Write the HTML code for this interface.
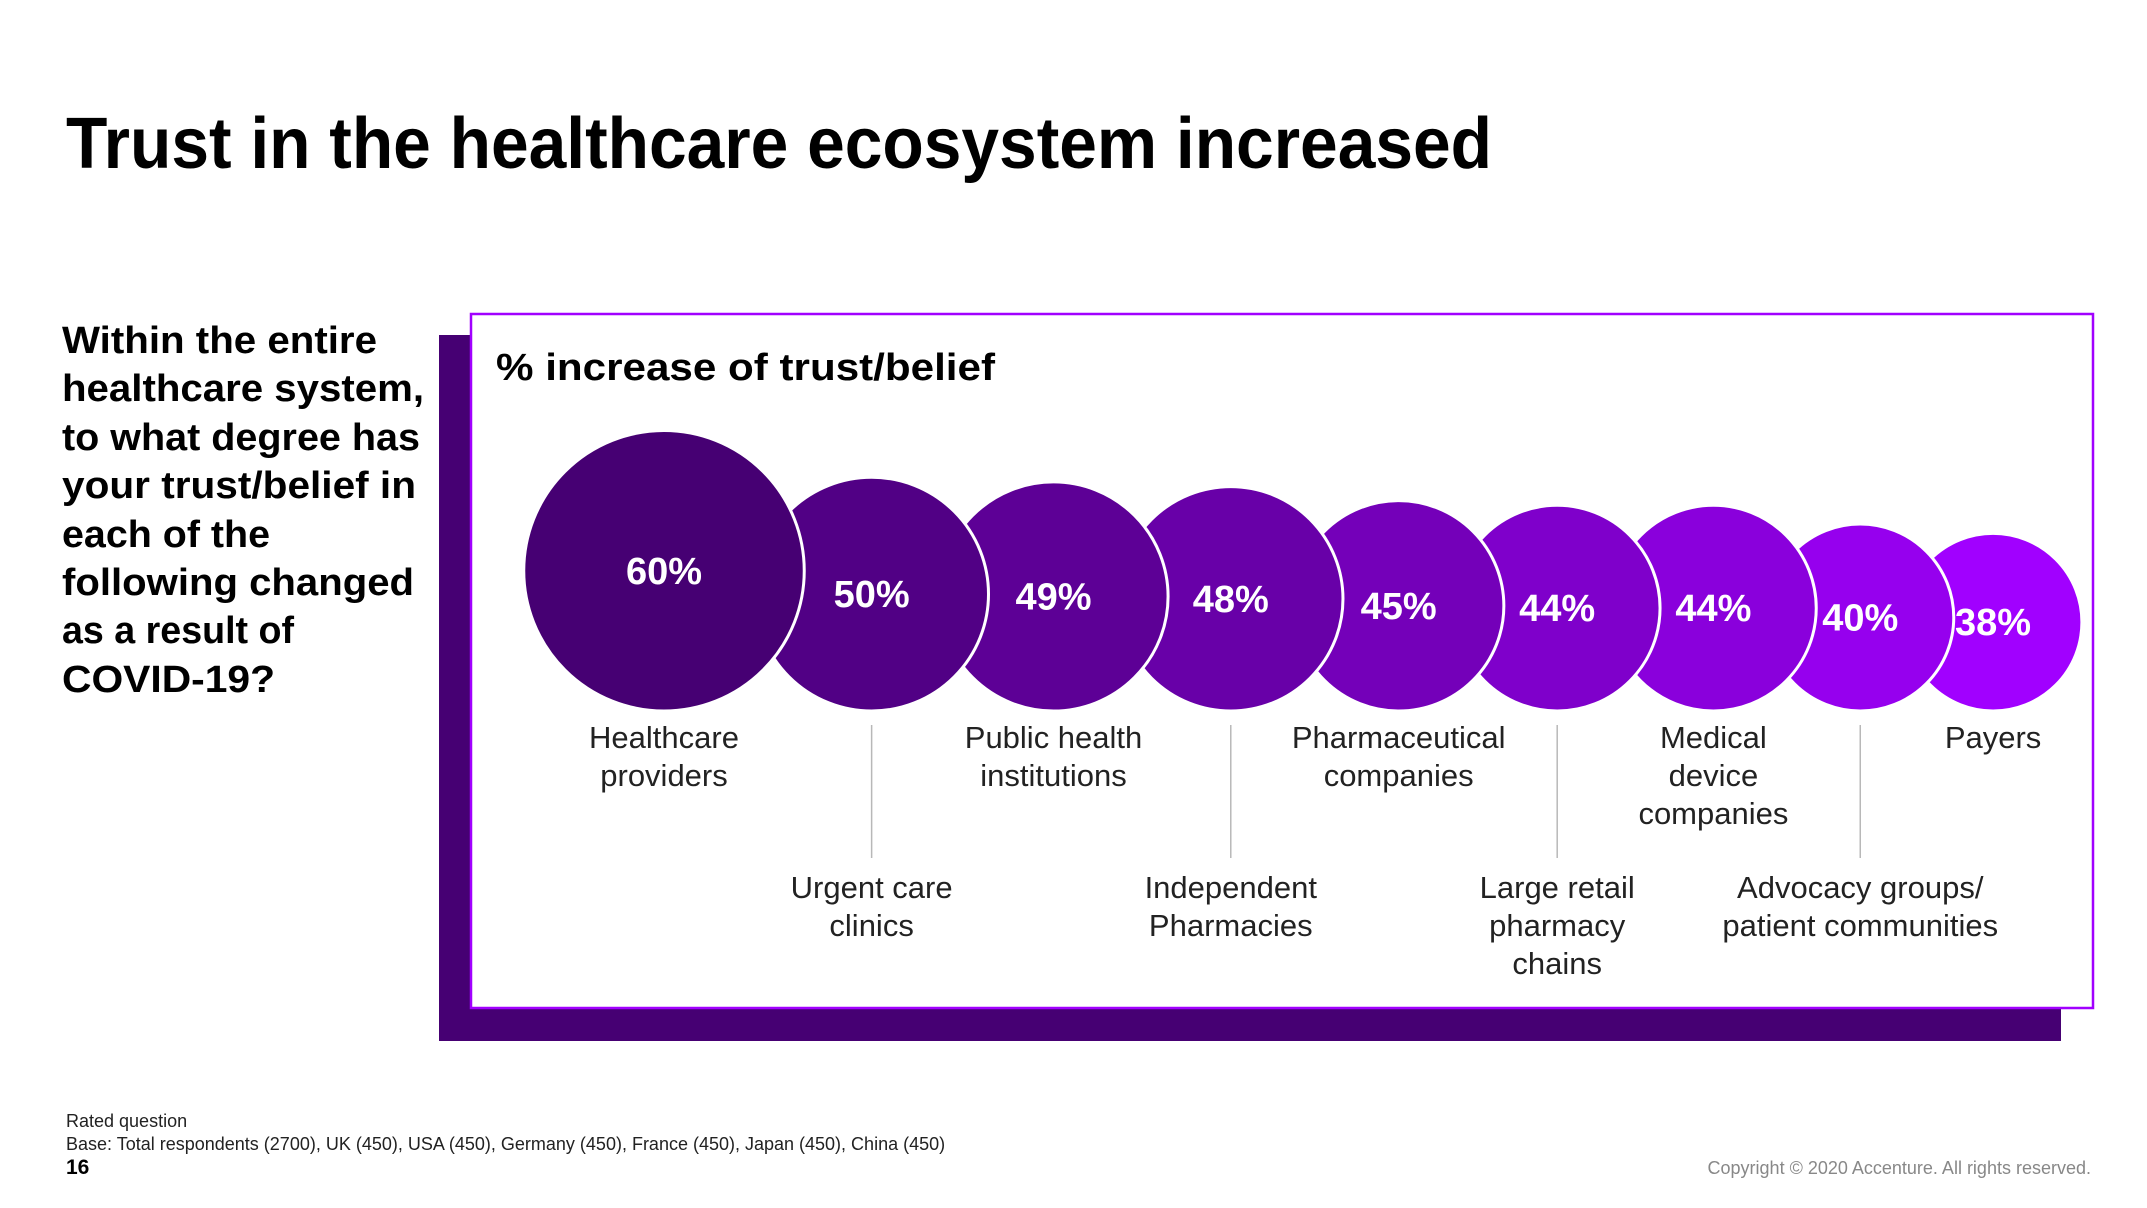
<!DOCTYPE html>
<html><head><meta charset="utf-8"><style>
html,body{margin:0;padding:0;background:#fff;}
svg{display:block;font-family:"Liberation Sans",sans-serif;}
</style></head><body>
<svg id="page" width="2147" height="1208" viewBox="0 0 2147 1208">
<text x="66" y="168" font-size="72" font-weight="bold" fill="#000" textLength="1426" lengthAdjust="spacingAndGlyphs">Trust in the healthcare ecosystem increased</text>
<g font-size="38" font-weight="bold" fill="#000">
<text x="62" y="353" textLength="315" lengthAdjust="spacingAndGlyphs">Within the entire</text>
<text x="62" y="401" textLength="362" lengthAdjust="spacingAndGlyphs">healthcare system,</text>
<text x="62" y="450" textLength="358" lengthAdjust="spacingAndGlyphs">to what degree has</text>
<text x="62" y="498" textLength="354" lengthAdjust="spacingAndGlyphs">your trust/belief in</text>
<text x="62" y="547" textLength="208" lengthAdjust="spacingAndGlyphs">each of the</text>
<text x="62" y="595" textLength="352" lengthAdjust="spacingAndGlyphs">following changed</text>
<text x="62" y="643" textLength="232" lengthAdjust="spacingAndGlyphs">as a result of</text>
<text x="62" y="692" textLength="213" lengthAdjust="spacingAndGlyphs">COVID-19?</text>
</g>
<rect x="439" y="335" width="1622" height="706" fill="#460073"/>
<rect x="471" y="314" width="1622" height="694" fill="#fff" stroke="#a100ff" stroke-width="2.5"/>
<text x="496" y="380" font-size="38" font-weight="bold" fill="#000" textLength="499" lengthAdjust="spacingAndGlyphs">% increase of trust/belief</text>
<g id="chart"></g>
<g font-size="18" fill="#222">
<text x="66" y="1127">Rated question</text>
<text x="66" y="1150">Base: Total respondents (2700), UK (450), USA (450), Germany (450), France (450), Japan (450), China (450)</text>
<text x="66" y="1174" font-weight="bold" font-size="21" fill="#000">16</text>
</g>
<text x="2091" y="1174" font-size="18" fill="#888" text-anchor="end">Copyright © 2020 Accenture. All rights reserved.</text>
</svg>
<script>
const categories = [["Healthcare","providers"],["Urgent care","clinics"],["Public health","institutions"],["Independent","Pharmacies"],["Pharmaceutical","companies"],["Large retail","pharmacy","chains"],["Medical","device","companies"],["Advocacy groups/","patient communities"],["Payers"]];
const values = [60,50,49,48,45,44,44,40,38];
const valueLabels = ["60%","50%","49%","48%","45%","44%","44%","40%","38%"];

const NS = "http://www.w3.org/2000/svg";
const g = document.getElementById('chart');
const baseY = 711, rScale = v => v * 2.3375, overlap = 49.5, firstX = 664;
const c0 = [0x46,0x00,0x73], c1 = [0xa1,0x00,0xff];
function col(i){const t=i/(values.length-1);return 'rgb('+c0.map((a,k)=>Math.round(a+(c1[k]-a)*t)).join(',')+')';}
const cx = [];
values.forEach((v,i)=>{ if(i===0) cx.push(firstX); else cx.push(cx[i-1]+rScale(values[i-1])+rScale(v)-overlap); });
// circles drawn in reverse so earlier ones sit on top
for(let i=values.length-1;i>=0;i--){
  const r = rScale(values[i]);
  const c = document.createElementNS(NS,'circle');
  c.setAttribute('cx',cx[i]); c.setAttribute('cy',baseY-r); c.setAttribute('r',r);
  c.setAttribute('fill',col(i)); c.setAttribute('stroke','#fff'); c.setAttribute('stroke-width','3');
  
  
  g.appendChild(c);
}
values.forEach((v,i)=>{
  const r = rScale(v);
  const t = document.createElementNS(NS,'text');
  t.setAttribute('x',cx[i]); t.setAttribute('y',baseY-r+13);
  t.setAttribute('text-anchor','middle'); t.setAttribute('font-size','38'); t.setAttribute('font-weight','bold'); t.setAttribute('fill','#fff');
  t.textContent = valueLabels[i];
  
  
  g.appendChild(t);
  const lower = i%2===1;
  if(lower){
    const l = document.createElementNS(NS,'line');
    l.setAttribute('x1',cx[i]); l.setAttribute('x2',cx[i]); l.setAttribute('y1',725); l.setAttribute('y2',858);
    l.setAttribute('stroke','#b8b8b8'); l.setAttribute('stroke-width','1.5');
    
    
    g.appendChild(l);
  }
  const y0 = lower ? 898 : 748;
  const lbl = document.createElementNS(NS,'text');
  lbl.setAttribute('text-anchor','middle'); lbl.setAttribute('font-size','31'); lbl.setAttribute('fill','#222');
  
  
  categories[i].forEach((s,k)=>{
    const ts = document.createElementNS(NS,'tspan');
    ts.setAttribute('x',cx[i]); ts.setAttribute('y',y0+k*38);
    ts.textContent = s; lbl.appendChild(ts);
  });
  g.appendChild(lbl);
});
</script>
</body></html>
